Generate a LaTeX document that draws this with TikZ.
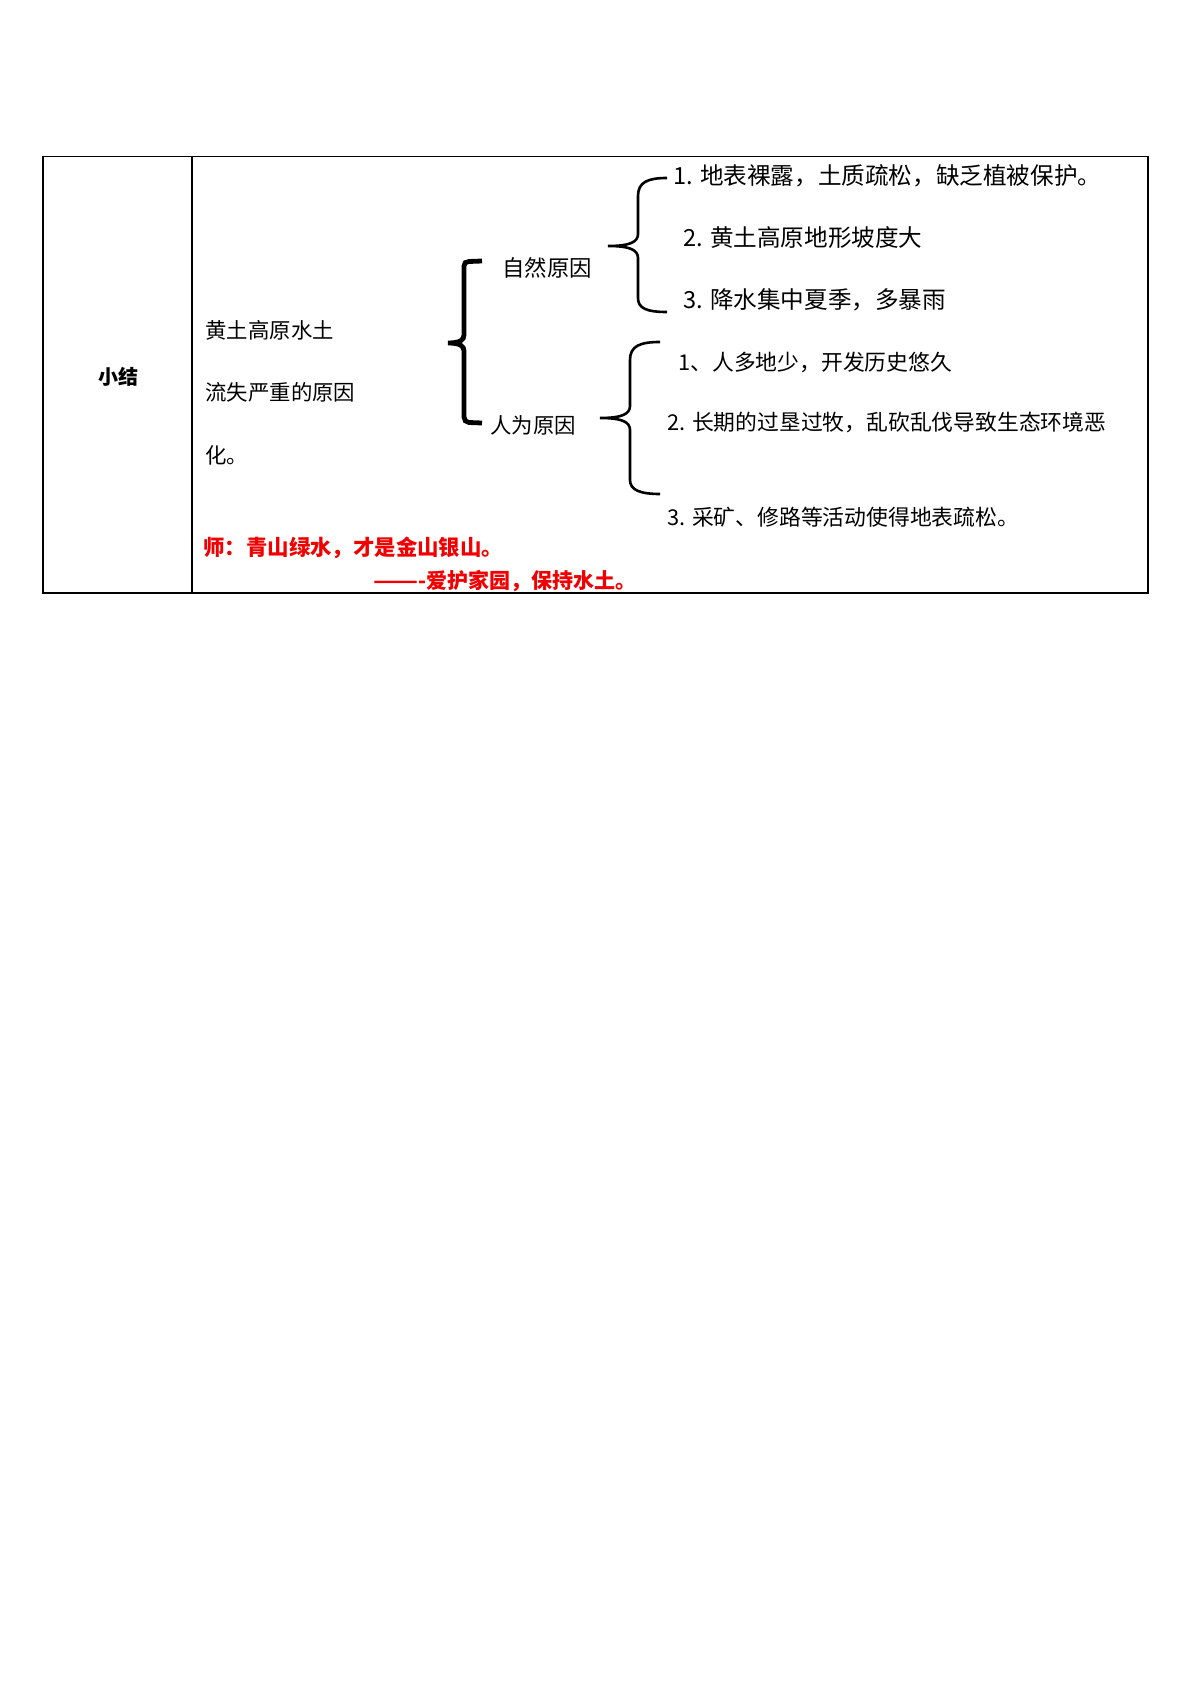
\documentclass[tikz,border=0pt]{standalone}
\usepackage{fontspec}
\newfontfamily\cjk{Noto Sans CJK SC}
\definecolor{redtxt}{RGB}{240,0,0}
\begin{document}
\begin{tikzpicture}[x=0.5pt,y=-0.5pt,
  txt/.style={anchor=west,inner sep=0pt,font=\cjk\fontsize{10.7pt}{12pt}\selectfont},
  bigtxt/.style={txt,font=\cjk\fontsize{11.8pt}{13pt}\selectfont},
  midtxt/.style={txt,font=\cjk\fontsize{10.9pt}{12pt}\selectfont},
  redbold/.style={anchor=west,inner sep=0pt,text=redtxt,font=\cjk\bfseries\fontsize{10.7pt}{12pt}\selectfont},
  hline/.style={line width=0.6pt},
  vline/.style={line width=1.4pt},
  bigbrace/.style={line width=2.4pt},
  brace/.style={line width=1.3pt}]
\useasboundingbox[fill=white] (0,0) rectangle (1191,1684);
% table
\draw[hline] (43,156.5) -- (1148,156.5);
\draw[hline] (43,593) -- (1148,593);
\draw[vline] (43,155.8) -- (43,593.7);
\draw[vline] (192,155.8) -- (192,593.7);
\draw[vline] (1148,155.8) -- (1148,593.7);
% left cell
\node[anchor=center,inner sep=0pt,font=\cjk\bfseries\fontsize{10pt}{12pt}\selectfont] (title) at (118,377) {小结};
% topic text
\node[txt] (t1) at (205,330) {黄土高原水土};
\node[txt] (t2) at (205,392) {流失严重的原因};
\node[txt] (t3) at (205,455) {化。};
% categories
\node[txt,font=\cjk\fontsize{11.2pt}{13pt}\selectfont] (nat) at (502,268) {自然原因};
\node[txt] (hum) at (490,425) {人为原因};
% natural causes
\node[bigtxt] (n1) at (673,176) {1. 地表裸露，土质疏松，缺乏植被保护。};
\node[bigtxt] (n2) at (683,238) {2. 黄土高原地形坡度大};
\node[bigtxt] (n3) at (683,300) {3. 降水集中夏季，多暴雨};
% human causes
\node[midtxt] (h1) at (678,362) {1、人多地少，开发历史悠久};
\node[midtxt] (h2) at (667,422) {2. 长期的过垦过牧，乱砍乱伐导致生态环境恶};
\node[midtxt] (h3) at (667,517) {3. 采矿、修路等活动使得地表疏松。};
% red lines
\node[redbold] (r1) at (203,548) {师：青山绿水，才是金山银山。};
\node[redbold,font=\cjk\bfseries\fontsize{10.5pt}{12pt}\selectfont] (r2) at (373,581) {\scalebox{1.25}[1]{——}-爱护家园，保持水土。};
% big brace
\draw[bigbrace] (482,261) -- (469,261.5) .. controls (466,261.5) and (464,263) .. (464,266)
  -- (464,335) .. controls (464,340) and (460,343) .. (448,343)
  .. controls (460,343) and (464,346) .. (464,351)
  -- (464,417) .. controls (464,420) and (466,422.5) .. (469,422.5) -- (482,423);
% upper right brace
\draw[brace] (667,178) .. controls (648,178) and (638,182) .. (638,196)
  -- (638,234) .. controls (638,242) and (630,246) .. (608,246)
  .. controls (630,246) and (638,250) .. (638,258)
  -- (638,298) .. controls (638,308) and (646,312) .. (667,312);
% lower right brace
\draw[brace] (660,342) .. controls (640,342) and (630,346) .. (630,360)
  -- (630,406) .. controls (630,414) and (622,418) .. (600,418)
  .. controls (622,418) and (630,422) .. (630,430)
  -- (630,480) .. controls (630,490) and (640,494) .. (660,494);
\end{tikzpicture}
\end{document}
